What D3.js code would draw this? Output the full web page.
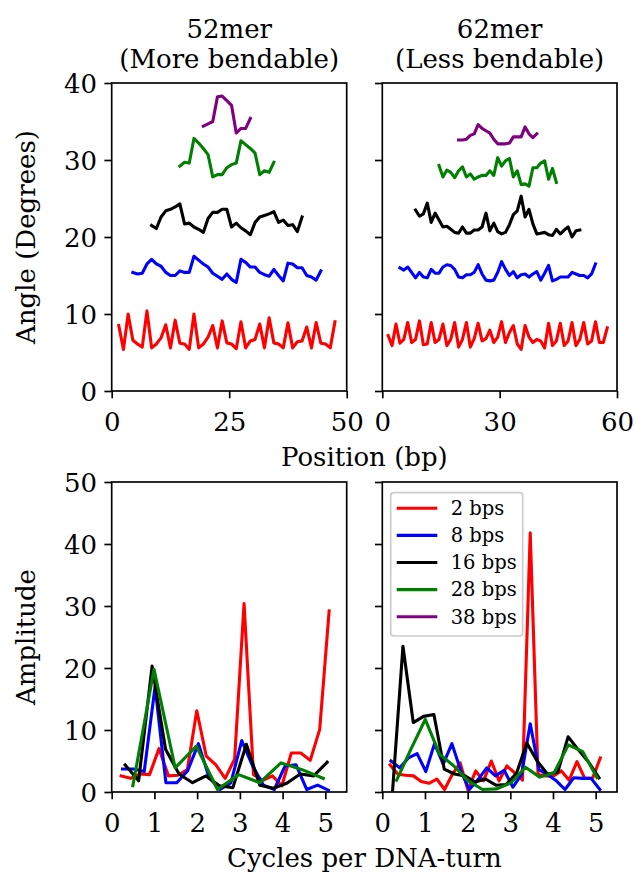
<!DOCTYPE html>
<html>
<meta charset="utf-8">
<script src="https://d3js.org/d3.v7.min.js"></script>
<style>
  body { margin: 0; background: #fff; }
  text { font-family: "DejaVu Serif", serif; fill: #000; }
</style>
<body>
<div id="chart"></div>
<script>
// bending angle along the sequence, one value per sliding window (degrees)
var angle52_2 = [8.5,5.4,10.0,6.6,6.1,5.7,10.4,5.6,6.1,6.9,8.6,5.6,9.2,6.2,6.1,5.4,10.0,5.6,6.1,7.0,8.5,5.6,9.1,6.25,6.1,5.5,9.0,5.6,6.5,6.7,8.7,5.6,9.5,6.25,6.1,5.6,8.85,5.6,6.4,6.5,8.3,5.6,8.9,6.2,6.1,5.6,9.0];
var angle52_8 = [15.4,15.2,15.3,16.5,17.1,16.5,16.2,15.4,15.0,15.0,15.6,15.4,15.4,17.5,17.0,16.5,16.1,15.3,14.9,14.5,15.2,14.5,14.1,17.1,16.7,16.1,16.1,15.4,15.1,14.9,15.8,15.0,14.3,16.6,16.5,16.0,16.0,15.0,14.8,14.4,15.6];
var angle52_16 = [21.5,21.1,22.6,23.4,23.6,23.9,24.3,21.7,21.8,21.3,21.0,20.6,22.4,23.2,23.2,23.6,23.6,21.3,21.8,21.2,20.8,20.3,21.9,22.6,22.8,23.0,23.3,21.9,22.2,21.5,21.6,20.7,22.6];
var angle52_28 = [29.2,29.7,29.6,32.8,32.2,31.5,30.7,27.8,28.1,28.1,29.0,29.4,29.6,32.5,32.0,31.5,30.9,28.1,28.6,28.4,29.7];
var angle52_38 = [34.4,34.7,35.0,38.2,38.3,37.7,37.1,33.5,34.1,34.1,35.4];

var angle62_2 = [7.2,5.9,8.7,6.2,6.7,8.9,6.3,6.7,9.1,6.0,6.1,8.9,6.3,6.7,8.7,5.9,6.7,8.9,5.7,6.7,8.9,5.7,6.8,8.8,6.5,6.8,7.9,6.3,7.0,9.0,6.3,7.6,8.5,6.1,5.4,8.5,7.0,6.3,6.7,6.5,5.6,8.8,5.9,6.5,8.8,5.9,6.5,8.9,5.9,6.7,8.9,6.1,6.5,9.0,6.3,6.3,8.2];
var angle62_8 = [16.0,15.7,16.1,15.4,14.7,15.4,14.8,14.7,15.8,15.3,15.3,16.1,16.4,16.3,15.8,14.8,14.7,15.1,15.1,15.4,16.4,15.2,14.4,14.3,14.4,15.4,16.8,15.8,15.0,15.5,14.7,15.1,15.2,14.8,15.2,15.5,14.4,15.3,16.3,14.3,14.5,14.8,14.8,14.8,15.4,15.2,15.0,15.0,14.7,15.2,16.5];
var angle62_16 = [23.5,22.7,23.0,24.4,21.9,23.1,22.2,21.3,21.4,21.0,20.6,20.5,21.3,20.5,20.5,20.9,20.9,21.3,23.1,20.8,21.8,20.7,20.4,20.6,21.6,22.9,23.4,25.3,22.6,23.6,21.7,20.4,20.5,20.6,20.3,20.2,21.0,20.4,20.9,21.3,20.0,20.8,20.9];
var angle62_28 = [29.3,27.8,28.7,28.4,27.7,28.6,29.1,27.8,28.2,27.5,27.8,28.0,28.0,28.6,28.0,30.3,29.2,29.9,30.2,27.8,28.6,26.8,26.9,26.6,29.0,29.0,29.6,29.9,27.5,28.9,27.1];
var angle62_38 = [32.6,32.6,32.7,33.2,33.4,34.6,34.1,33.8,33.5,32.7,32.1,32.1,32.1,32.2,33.0,33.0,33.0,34.3,33.4,32.9,33.4];

// Fourier amplitudes of those profiles, harmonics 1..N/2
var amp52_2 = [2.6,2.2,2.9,2.8,7.0,2.6,2.7,3.6,13.1,5.8,4.4,2.2,5.3,30.4,2.8,1.9,2.6,1.0,6.3,6.3,5.1,10.1,29.2];
var amp52_8 = [3.7,3.7,3.3,17.0,1.5,1.5,3.4,7.8,2.3,0.4,1.5,8.3,4.2,1.1,0.4,4.2,4.4,0.4,1.1,0.3];
var amp52_16 = [4.35,1.8,20.3,6.9,2.9,1.5,2.6,1.0,0.7,7.7,1.1,0.6,1.4,2.9,2.6,4.8];
var amp52_28 = [1.0,19.8,3.9,7.4,0.4,2.8,1.5,4.7,3.6,2.2];

var amp62_2 = [4.35,2.85,2.7,2.6,1.7,1.4,2.1,0.4,2.85,4.7,0.3,3.4,1.8,5.0,1.8,4.2,3.1,1.9,41.8,2.8,2.6,2.6,3.4,1.9,4.9,2.2,2.2,5.5];
var amp62_8 = [5.0,3.9,5.5,6.2,3.3,7.8,4.5,7.8,3.5,0.4,2.0,3.9,2.6,3.5,0.8,2.8,11.0,3.6,2.8,1.8,0.4,2.3,2.2,2.2,0.4];
var amp62_16 = [0.3,23.5,11.2,12.2,12.5,3.7,2.9,2.6,1.6,2.1,1.1,1.2,3.0,7.9,5.0,2.9,3.2,8.9,6.8,4.8,2.3];
var amp62_28 = [1.9,6.9,11.7,6.1,4.2,1.8,0.4,0.5,1.5,4.0,2.4,3.1,7.6,6.5,2.3];

var windows = [2, 8, 16, 28, 38];
var labels = ["2 bps", "8 bps", "16 bps", "28 bps", "38 bps"];
var colors = ["red", "blue", "black", "green", "purple"];
var bpPerTurn = 10.4;

var titles52 = ["52mer", "(More bendable)"];
var titles62 = ["62mer", "(Less bendable)"];
var angleTicks = [0, 10, 20, 30, 40];
var ampTicks = [0, 10, 20, 30, 40, 50];
var posTicks52 = [0, 25, 50];
var posTicks62 = [0, 30, 60];
var cycleTicks = [0, 1, 2, 3, 4, 5];

var W = 634, H = 873;
var fs = 26, tickLen = 7.3, sw = 1.67;
var svg = d3.select("#chart").append("svg")
  .attr("width", W).attr("height", H);

var colL = [111.7, 346.7], colR = [382.3, 617];
var rowT = [83, 391], rowB = [482, 792];

// window-centred positions along the sequence
function profile(vals, w) {
  return vals.map(function(v, i) { return [w / 2 + 0.5 + i, v]; });
}
// harmonic k of an N-window profile, in cycles per DNA turn
function spectrum(vals, n) {
  return vals.map(function(v, i) { return [(i + 1) * bpPerTurn / n, v]; });
}

var clipId = 0;
function panel(xr, yr, xdom, ydom, xticks, yticks, showY, series) {
  var x = d3.scaleLinear().domain(xdom).range(xr);
  var y = d3.scaleLinear().domain(ydom).range([yr[1], yr[0]]);
  var g = svg.append("g");

  var id = "clip" + (clipId++);
  g.append("clipPath").attr("id", id).append("rect")
    .attr("x", xr[0]).attr("y", yr[0])
    .attr("width", xr[1] - xr[0]).attr("height", yr[1] - yr[0]);

  var line = d3.line().x(function(d) { return x(d[0]); }).y(function(d) { return y(d[1]); });
  var lines = g.append("g").attr("clip-path", "url(#" + id + ")");
  series.forEach(function(s) {
    lines.append("path").datum(s.data)
      .attr("d", line)
      .attr("fill", "none")
      .attr("stroke", s.color)
      .attr("stroke-width", 3.1)
      .attr("stroke-linejoin", "round")
      .attr("stroke-linecap", "square");
  });

  var xa = g.append("g").attr("transform", "translate(0," + yr[1] + ")")
    .call(d3.axisBottom(x).tickValues(xticks).tickFormat(d3.format("d"))
      .tickSize(tickLen).tickPadding(7.5).tickSizeOuter(0));
  var ya = g.append("g").attr("transform", "translate(" + xr[0] + ",0)")
    .call(d3.axisLeft(y).tickValues(yticks).tickFormat(d3.format("d"))
      .tickSize(tickLen).tickPadding(7.3).tickSizeOuter(0));
  [xa, ya].forEach(function(a) {
    a.select(".domain").remove();
    a.selectAll(".tick line").attr("stroke", "#000").attr("stroke-width", sw);
    a.selectAll(".tick text").attr("font-size", fs).attr("font-family", "DejaVu Serif").attr("fill", "#000");
  });
  xa.selectAll(".tick text").attr("dy", null).attr("y", 39.5);
  ya.selectAll(".tick text").attr("dy", "0.36em");
  if (!showY) ya.selectAll(".tick text").remove();

  g.append("rect")
    .attr("x", xr[0]).attr("y", yr[0])
    .attr("width", xr[1] - xr[0]).attr("height", yr[1] - yr[0])
    .attr("fill", "none").attr("stroke", "#000").attr("stroke-width", sw);
  return g;
}

function profileSeries(vals) {
  return vals.map(function(v, i) { return { data: profile(v, windows[i]), color: colors[i] }; });
}
function spectrumSeries(vals, profiles) {
  return vals.map(function(v, i) { return { data: spectrum(v, profiles[i].length), color: colors[i] }; });
}

var prof52 = [angle52_2, angle52_8, angle52_16, angle52_28, angle52_38];
var prof62 = [angle62_2, angle62_8, angle62_16, angle62_28, angle62_38];

panel(colL, rowT, [0, 50], [0, 40], posTicks52, angleTicks, true, profileSeries(prof52));
panel(colR, rowT, [0, 60], [0, 40], posTicks62, angleTicks, false, profileSeries(prof62));
panel(colL, rowB, [0, 5.5], [0, 50], cycleTicks, ampTicks, true,
  spectrumSeries([amp52_2, amp52_8, amp52_16, amp52_28], prof52));
panel(colR, rowB, [0, 5.5], [0, 50], cycleTicks, ampTicks, false,
  spectrumSeries([amp62_2, amp62_8, amp62_16, amp62_28], prof62));

// titles
[[colL, titles52], [colR, titles62]].forEach(function(t) {
  var cx = (t[0][0] + t[0][1]) / 2;
  t[1].forEach(function(s, i) {
    svg.append("text").attr("x", cx).attr("y", 37.5 + 30.5 * i)
      .attr("text-anchor", "middle").attr("font-size", fs).text(s);
  });
});

// axis labels
var midX = (colL[0] + colR[1]) / 2;
svg.append("text").attr("x", midX).attr("y", 466).attr("text-anchor", "middle")
  .attr("font-size", fs).text("Position (bp)");
svg.append("text").attr("x", midX).attr("y", 867).attr("text-anchor", "middle")
  .attr("font-size", fs).text("Cycles per DNA-turn");
svg.append("text").attr("transform", "translate(35," + (rowT[0] + rowT[1]) / 2 + ") rotate(-90)")
  .attr("text-anchor", "middle").attr("font-size", fs).text("Angle (Degrees)");
svg.append("text").attr("transform", "translate(35," + (rowB[0] + rowB[1]) / 2 + ") rotate(-90)")
  .attr("text-anchor", "middle").attr("font-size", fs).text("Amplitude");

// legend
var lg = svg.append("g");
lg.append("rect").attr("x", 390.7).attr("y", 492.7).attr("width", 132).attr("height", 143.3)
  .attr("rx", 3).attr("fill", "#fff").attr("fill-opacity", 0.8)
  .attr("stroke", "#cccccc").attr("stroke-width", sw);
labels.forEach(function(l, i) {
  var yy = 508.3 + 27.1 * i;
  lg.append("line").attr("x1", 396.7).attr("x2", 437.3).attr("y1", yy).attr("y2", yy)
    .attr("stroke", colors[i]).attr("stroke-width", 3.1);
  lg.append("text").attr("x", 450.7).attr("y", yy + 6.8).attr("font-size", 19.5).text(l);
});
</script>
</body>
</html>
